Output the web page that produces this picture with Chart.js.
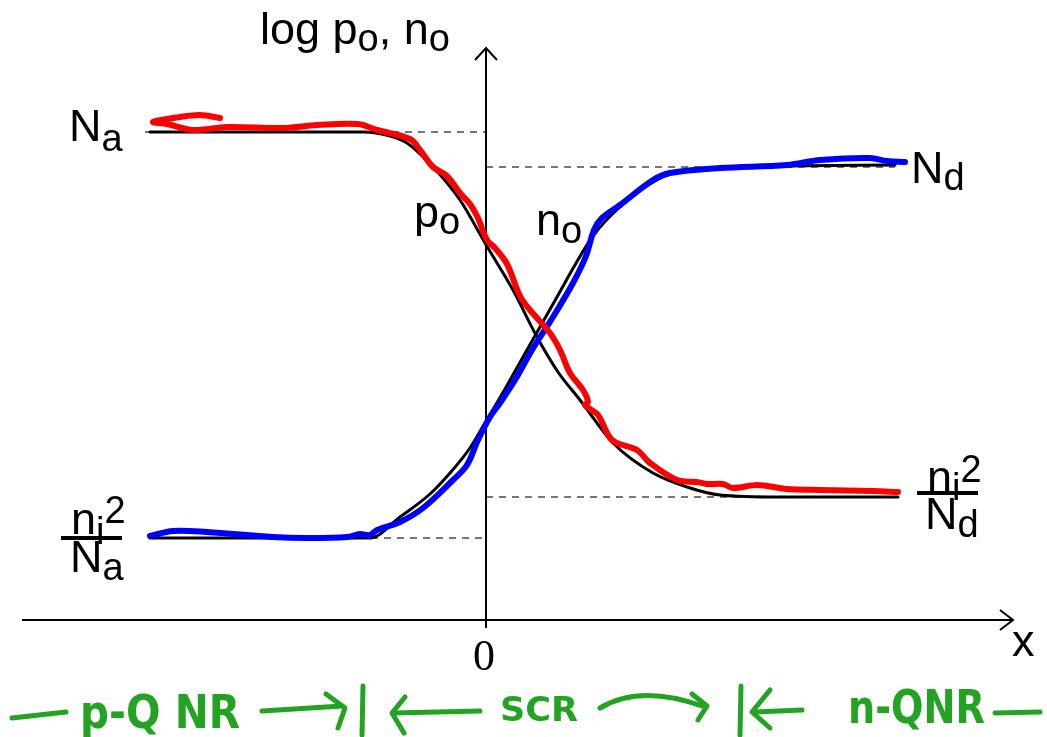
<!DOCTYPE html>
<html>
<head>
<meta charset="utf-8">
<title>log p0, n0 across a pn junction</title>
<script src="https://cdn.jsdelivr.net/npm/chart.js@4"></script>
<style>
  html, body { margin: 0; padding: 0; background: #fff; }
  #wrap { width: 1047px; height: 737px; position: relative; }
</style>
</head>
<body>
<div id="wrap"><canvas id="chart"></canvas></div>
<script>
// x = position (junction at 0, arb. units), y = log concentration (arb. units)

// ideal profiles (black)
const p0X = [-3.36, -1.23, -0.96, -0.79, -0.53, -0.26, -0.01, 0.27, 0.51, 0.72, 0.94, 1.27, 1.67, 2.04, 2.34, 2.94, 4.12];
const p0Y = [4.88, 4.88, 4.84, 4.77, 4.53, 4.20, 3.77, 3.30, 2.83, 2.48, 2.20, 1.77, 1.47, 1.32, 1.25, 1.23, 1.23];
const n0X = [-3.36, -1.16, -0.86, -0.56, -0.36, -0.16, -0.01, 0.19, 0.37, 0.54, 0.71, 0.89, 1.07, 1.34, 1.77, 2.21, 2.94, 4.09];
const n0Y = [0.82, 0.82, 1.03, 1.26, 1.47, 1.72, 1.97, 2.31, 2.63, 2.93, 3.23, 3.55, 3.84, 4.13, 4.43, 4.52, 4.54, 4.55];

// hand-drawn traces (red = p0, blue = n0)
const p0SketchX = [-2.66, -2.86, -3.06, -3.33, -3.19, -2.93, -2.59, -2.03, -1.69, -1.28, -1.09, -0.76, -0.66, -0.53, -0.39, -0.26, -0.16, -0.08, 0.01, 0.09, 0.21, 0.34, 0.44, 0.64, 0.74, 0.84, 0.97, 1.02, 0.99, 1.12, 1.26, 1.51, 1.64, 1.91, 2.11, 2.21, 2.37, 2.47, 2.71, 3.01, 3.34, 3.87, 4.12];
const p0SketchY = [5.02, 5.05, 5.03, 4.98, 4.96, 4.90, 4.93, 4.92, 4.95, 4.96, 4.90, 4.81, 4.70, 4.53, 4.44, 4.27, 4.16, 4.02, 3.80, 3.72, 3.56, 3.24, 3.10, 2.87, 2.70, 2.47, 2.30, 2.18, 2.15, 2.05, 1.80, 1.70, 1.57, 1.40, 1.38, 1.36, 1.36, 1.32, 1.35, 1.31, 1.30, 1.29, 1.28];
const n0SketchX = [-3.36, -3.13, -2.79, -2.13, -1.79, -1.39, -1.26, -1.16, -1.09, -0.86, -0.63, -0.33, -0.19, -0.08, 0.04, 0.14, 0.29, 0.46, 0.67, 0.87, 1.00, 1.08, 1.16, 1.34, 1.67, 1.84, 2.34, 3.01, 3.34, 3.84, 4.01, 4.19];
const n0SketchY = [0.84, 0.89, 0.88, 0.83, 0.82, 0.83, 0.86, 0.85, 0.90, 0.98, 1.12, 1.40, 1.55, 1.80, 2.03, 2.17, 2.40, 2.70, 3.03, 3.37, 3.64, 3.90, 4.02, 4.15, 4.40, 4.47, 4.52, 4.55, 4.60, 4.62, 4.59, 4.58];

// dashed guide levels: Na, Nd, ni^2/Nd, ni^2/Na
const guideY    = [4.88, 4.53, 1.23, 0.82];
const guideFrom = [-3.41, 0, 0, -3.36];
const guideTo   = [0, 4.09, 4.12, 0];

// axes
const xAxisSpan = [-4.64, 5.27];
const yAxisSpan = [-0.08, 5.72];

const SANS = "'Liberation Sans', Arial, sans-serif";
const GREEN = "#22a322";
const BIG = 45, SMALL = 38;

const zip = (xs, ys) => xs.map((x, i) => ({ x, y: ys[i] }));

function lineSet(data, color, width, extra) {
  return Object.assign({
    data, borderColor: color, borderWidth: width, backgroundColor: "transparent",
    pointRadius: 0, pointHoverRadius: 0, showLine: true, fill: false,
    borderCapStyle: "round", borderJoinStyle: "round"
  }, extra || {});
}

const datasets = [
  lineSet(zip(p0SketchX, p0SketchY), "#ff0000", 6, { tension: 0.35, order: 0 }),
  lineSet(zip(n0SketchX, n0SketchY), "#0000ff", 6, { tension: 0.35, order: 0 }),
  lineSet(zip(p0X, p0Y), "#000", 3, { cubicInterpolationMode: "monotone", order: 1 }),
  lineSet(zip(n0X, n0Y), "#000", 3, { cubicInterpolationMode: "monotone", order: 1 }),
];
guideY.forEach((y, i) => {
  datasets.push(lineSet([{ x: guideFrom[i], y }, { x: guideTo[i], y }], "#4a4a4a", 1.5,
    { borderDash: [7, 6], borderCapStyle: "butt", order: 3 }));
});
datasets.push(lineSet([{ x: xAxisSpan[0], y: 0 }, { x: xAxisSpan[1], y: 0 }], "#000", 2, { borderCapStyle: "butt", order: 2 }));
datasets.push(lineSet([{ x: 0, y: yAxisSpan[0] }, { x: 0, y: yAxisSpan[1] }], "#000", 2, { borderCapStyle: "butt", order: 2 }));

/** draw a run of text pieces [text, size, dy] left to right */
function drawRuns(ctx, x, y, runs) {
  for (const [txt, size, dy] of runs) {
    ctx.font = size + "px " + SANS;
    ctx.fillText(txt, x, y + dy);
    x += ctx.measureText(txt).width;
  }
}

/** green handwriting: squeeze text into a given width */
function fitText(ctx, txt, x, y, w, font) {
  ctx.save();
  ctx.font = font;
  const k = w / ctx.measureText(txt).width;
  ctx.translate(x, y);
  ctx.scale(k, 1);
  ctx.fillText(txt, 0, 0);
  ctx.restore();
}

function stroke(ctx, pts) {
  ctx.beginPath();
  ctx.moveTo(pts[0][0], pts[0][1]);
  for (let i = 1; i < pts.length; i++) ctx.lineTo(pts[i][0], pts[i][1]);
  ctx.stroke();
}

const decorations = {
  id: "decorations",
  afterDatasetsDraw(chart) {
    const { ctx, scales: { x: sx, y: sy } } = chart;
    const px = v => sx.getPixelForValue(v);
    const py = v => sy.getPixelForValue(v);
    ctx.save();

    // arrow heads
    ctx.strokeStyle = "#000";
    ctx.lineWidth = 2;
    ctx.lineJoin = "miter";
    const xt = px(xAxisSpan[1]), x0 = py(0);
    stroke(ctx, [[xt - 13, x0 - 10], [xt, x0], [xt - 13, x0 + 10]]);
    const yt = py(yAxisSpan[1]), y0 = px(0);
    stroke(ctx, [[y0 - 11, yt + 12], [y0, yt], [y0 + 11, yt + 12]]);

    // labels
    ctx.fillStyle = "#000";
    ctx.textBaseline = "alphabetic";
    ctx.textAlign = "left";
    drawRuns(ctx, 260, 44, [["log p", BIG, 0], ["o", SMALL, 7], [", n", BIG, 0], ["o", SMALL, 7]]);
    drawRuns(ctx, 69, py(guideY[0]) + 9, [["N", BIG, 0], ["a", SMALL, 10]]);
    drawRuns(ctx, 911, py(guideY[1]) + 16, [["N", BIG, 0], ["d", SMALL, 7]]);
    drawRuns(ctx, 414, 227, [["p", BIG, 0], ["o", SMALL, 7]]);
    drawRuns(ctx, 536, 235, [["n", BIG, 0], ["o", SMALL, 8]]);

    // ni^2 / Na (left)
    const bl = py(guideY[3]);
    drawRuns(ctx, 71, bl - 4, [["n", BIG, 0], ["i", SMALL, 10], ["2", SMALL, -11]]);
    ctx.fillRect(61, bl - 2, 61, 4);
    drawRuns(ctx, 70, bl + 34, [["N", BIG, 0], ["a", SMALL, 8]]);
    // ni^2 / Nd (right)
    const br = py(guideY[2]);
    drawRuns(ctx, 927, br - 5, [["n", BIG, 0], ["i", SMALL, 8], ["2", SMALL, -10]]);
    ctx.fillRect(917, br - 6, 61, 4);
    drawRuns(ctx, 925, br + 32, [["N", BIG, 0], ["d", SMALL, 8]]);

    ctx.font = "44px 'Liberation Serif', 'Times New Roman', serif";
    ctx.textAlign = "center";
    ctx.fillText("0", px(0) - 2, 670);
    ctx.textAlign = "left";
    ctx.font = BIG + "px " + SANS;
    ctx.fillText("x", 1012, 656);

    // green region annotation
    ctx.fillStyle = GREEN;
    ctx.strokeStyle = GREEN;
    ctx.lineWidth = 5;
    ctx.lineCap = "round";
    ctx.lineJoin = "round";
    const hand = "bold 46px 'Liberation Sans Narrow', 'DejaVu Sans Condensed', sans-serif";
    stroke(ctx, [[12, 718], [66, 712]]);
    fitText(ctx, "p-Q NR", 80, 728, 160, hand);
    stroke(ctx, [[262, 711], [342, 706]]);
    stroke(ctx, [[326, 694], [345, 708], [338, 728]]);
    stroke(ctx, [[363, 686], [362, 735]]);
    stroke(ctx, [[405, 697], [392, 713], [404, 733]]);
    stroke(ctx, [[393, 713], [480, 711]]);
    fitText(ctx, "SCR", 500, 721, 78, "bold 34px 'Liberation Sans Narrow', 'DejaVu Sans Condensed', sans-serif");
    ctx.beginPath();
    ctx.moveTo(600, 708);
    ctx.quadraticCurveTo(640, 684, 702, 706);
    ctx.stroke();
    stroke(ctx, [[692, 694], [707, 706], [698, 720]]);
    stroke(ctx, [[741, 686], [740, 735]]);
    stroke(ctx, [[770, 690], [752, 712], [770, 728]]);
    stroke(ctx, [[755, 712], [802, 710]]);
    fitText(ctx, "n-QNR", 848, 723, 137, hand);
    stroke(ctx, [[995, 713], [1040, 712]]);

    ctx.restore();
  }
};

new Chart(document.getElementById("chart"), {
  type: "scatter",
  data: { datasets },
  options: {
    responsive: true,
    maintainAspectRatio: false,
    animation: false,
    layout: { padding: 0 },
    plugins: { legend: { display: false }, tooltip: { enabled: false } },
    scales: {
      x: { type: "linear", min: -4.86, max: 5.61, display: false },
      y: { type: "linear", min: -1.17, max: 6.20, display: false }
    }
  },
  plugins: [decorations]
});
</script>
</body>
</html>
